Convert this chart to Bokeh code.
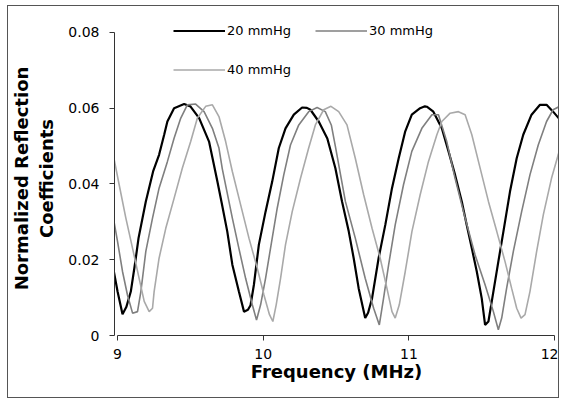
from bokeh.plotting import figure
from bokeh.models import Range1d, FixedTicker, Legend, LegendItem
from bokeh.embed import file_html
from bokeh.resources import INLINE

# ---- data ----
freq_20 = [8.966, 9.0, 9.034, 9.06, 9.091, 9.12, 9.144, 9.194, 9.244, 9.285, 9.32, 9.342, 9.388, 9.457, 9.50,
           9.56, 9.628, 9.651, 9.685, 9.715, 9.753, 9.788, 9.833, 9.868, 9.895, 9.913, 9.936, 9.97, 10.016,
           10.062, 10.107, 10.153, 10.21, 10.267, 10.30, 10.324, 10.381, 10.44, 10.495, 10.541, 10.587, 10.621,
           10.655, 10.70, 10.72, 10.747, 10.792, 10.838, 10.884, 10.93, 10.975, 11.02, 11.077, 11.11, 11.123,
           11.168, 11.226, 11.272, 11.317, 11.363, 11.397, 11.432, 11.466, 11.50, 11.523, 11.546, 11.58, 11.614,
           11.649, 11.694, 11.74, 11.785, 11.842, 11.90, 11.945, 11.99, 12.048]
refl_20 = [0.0187, 0.0116, 0.0056, 0.0075, 0.0116, 0.019, 0.0257, 0.0354, 0.0433, 0.0477, 0.053, 0.0565, 0.060,
           0.0611, 0.0605, 0.0574, 0.0512, 0.047, 0.0407, 0.035, 0.0275, 0.0187, 0.0116, 0.0063, 0.0068, 0.008,
           0.0134, 0.024, 0.0327, 0.0407, 0.0495, 0.0547, 0.0583, 0.0602, 0.0601, 0.0596, 0.0565, 0.052, 0.0442,
           0.0354, 0.0275, 0.0204, 0.0125, 0.0046, 0.006, 0.0098, 0.0204, 0.0292, 0.0389, 0.0468, 0.0539, 0.0583,
           0.060, 0.0605, 0.0604, 0.0591, 0.0547, 0.0486, 0.0424, 0.0354, 0.0292, 0.023, 0.0169, 0.0098, 0.0028,
           0.0037, 0.0116, 0.0195, 0.0275, 0.038, 0.0468, 0.053, 0.0583, 0.0609, 0.0609, 0.0591, 0.0565]

freq_30 = [8.961, 9.0, 9.034, 9.068, 9.103, 9.137, 9.16, 9.194, 9.24, 9.285, 9.342, 9.388, 9.434, 9.479, 9.536,
           9.594, 9.651, 9.696, 9.719, 9.788, 9.833, 9.879, 9.925, 9.954, 9.982, 10.016, 10.05, 10.096, 10.141,
           10.187, 10.244, 10.312, 10.37, 10.426, 10.468, 10.495, 10.564, 10.632, 10.70, 10.758, 10.797, 10.826,
           10.861, 10.906, 10.963, 11.02, 11.089, 11.158, 11.203, 11.26, 11.317, 11.386, 11.454, 11.523, 11.58,
           11.614, 11.637, 11.671, 11.717, 11.774, 11.831, 11.888, 11.945, 11.99, 12.036]
refl_30 = [0.0332, 0.0248, 0.0169, 0.0107, 0.0059, 0.0063, 0.0116, 0.0222, 0.031, 0.0389, 0.0459, 0.0521, 0.0574,
           0.0609, 0.0611, 0.0591, 0.0547, 0.0495, 0.044, 0.031, 0.023, 0.0151, 0.0081, 0.0041, 0.0081, 0.0151,
           0.023, 0.0336, 0.0424, 0.0503, 0.0556, 0.0591, 0.0602, 0.0591, 0.0555, 0.050, 0.0354, 0.0257, 0.0151,
           0.0072, 0.0028, 0.0098, 0.0187, 0.0292, 0.0398, 0.0486, 0.0547, 0.0583, 0.0583, 0.0512, 0.0415, 0.031,
           0.0213, 0.0134, 0.0063, 0.0015, 0.0046, 0.0125, 0.0222, 0.0327, 0.0424, 0.0503, 0.0565, 0.0596, 0.0605]

freq_40 = [8.961, 9.011, 9.057, 9.103, 9.148, 9.183, 9.217, 9.24, 9.251, 9.285, 9.331, 9.388, 9.445, 9.502, 9.548,
           9.605, 9.651, 9.696, 9.742, 9.788, 9.845, 9.902, 9.959, 10.005, 10.043, 10.066, 10.089, 10.119, 10.153,
           10.199, 10.256, 10.312, 10.358, 10.415, 10.465, 10.518, 10.575, 10.632, 10.69, 10.747, 10.803, 10.849,
           10.884, 10.906, 10.934, 10.975, 11.021, 11.077, 11.134, 11.192, 11.226, 11.283, 11.34, 11.386, 11.432,
           11.489, 11.546, 11.603, 11.66, 11.705, 11.74, 11.77, 11.797, 11.831, 11.877, 11.923, 11.979, 12.025,
           12.048]
refl_40 = [0.0495, 0.0398, 0.031, 0.023, 0.0151, 0.009, 0.0063, 0.0072, 0.0116, 0.0204, 0.0283, 0.0362, 0.0442,
           0.0512, 0.0574, 0.0605, 0.0609, 0.0578, 0.0512, 0.0433, 0.0345, 0.0257, 0.0178, 0.0107, 0.0055, 0.0037,
           0.0081, 0.0151, 0.024, 0.0327, 0.0415, 0.0495, 0.0556, 0.0596, 0.0605, 0.0591, 0.0556, 0.0468, 0.0371,
           0.0283, 0.0204, 0.0125, 0.0063, 0.0046, 0.0081, 0.0169, 0.0275, 0.0371, 0.0459, 0.053, 0.0565, 0.0587,
           0.0591, 0.0583, 0.053, 0.0442, 0.0354, 0.0275, 0.0195, 0.0125, 0.0072, 0.0046, 0.0055, 0.0116, 0.0222,
           0.0319, 0.0415, 0.0477, 0.0512]

series_names = ["20 mmHg", "30 mmHg", "40 mmHg"]
x_ticks = [9, 10, 11, 12]
x_tick_labels = ["9", "10", "11", "12"]
y_ticks = [0, 0.02, 0.04, 0.06, 0.08]
y_tick_labels = ["0", "0.02", "0.04", "0.06", "0.08"]

FONT = "DejaVu Sans"

p = figure(width=552, height=393, output_backend="svg", toolbar_location=None,
           x_range=Range1d(8.979, 12.027), y_range=Range1d(0, 0.0829),
           min_border_left=102, min_border_right=2, min_border_top=15, min_border_bottom=64)
p.styles = {"border": "1px solid #555555", "margin-left": "7px", "margin-top": "5px"}
p.outline_line_color = None
p.grid.visible = False
p.background_fill_color = "white"
p.border_fill_color = "white"

r20 = p.line(freq_20, refl_20, line_color="black", line_width=2.2)
r30 = p.line(freq_30, refl_30, line_color="#7f7f7f", line_width=1.6)
r40 = p.line(freq_40, refl_40, line_color="#a9a9a9", line_width=1.6)

# axes
xa = p.xaxis[0]
xa.ticker = FixedTicker(ticks=x_ticks)
xa.major_label_overrides = {t: l for t, l in zip(x_ticks, x_tick_labels)}
xa.bounds = (9, 12)
xa.minor_tick_line_color = None
xa.major_tick_out = 5
xa.major_tick_in = 0
xa.major_label_standoff = 8
xa.major_label_text_font = FONT
xa.major_label_text_font_size = "14px"
xa.major_label_text_color = "black"
xa.axis_line_color = "#333333"
xa.major_tick_line_color = "#333333"
xa.axis_label = "Frequency (MHz)"
xa.axis_label_text_font = FONT
xa.axis_label_text_font_style = "bold"
xa.axis_label_text_font_size = "18px"
xa.axis_label_text_color = "black"
xa.axis_label_standoff = -1

ya = p.yaxis[0]
ya.ticker = FixedTicker(ticks=y_ticks)
ya.major_label_overrides = {t: l for t, l in zip(y_ticks, y_tick_labels)}
ya.bounds = (0, 0.08)
ya.minor_tick_line_color = None
ya.major_tick_out = 5
ya.major_tick_in = 0
ya.major_label_standoff = 10
ya.major_label_text_font = FONT
ya.major_label_text_font_size = "14px"
ya.major_label_text_color = "black"
ya.axis_line_color = "#333333"
ya.major_tick_line_color = "#333333"
ya.axis_label = "Normalized Reflection\nCoefficients"
ya.axis_label_text_font = FONT
ya.axis_label_text_font_style = "bold"
ya.axis_label_text_font_size = "18px"
ya.axis_label_text_color = "black"
ya.axis_label_standoff = 8

legend = Legend(items=[LegendItem(label=series_names[0], renderers=[r20]),
                       LegendItem(label=series_names[1], renderers=[r30]),
                       LegendItem(label=series_names[2], renderers=[r40])],
                orientation="horizontal", ncols=2, location=(59, 258),
                glyph_width=52, glyph_height=13, label_height=13, label_standoff=2,
                spacing=24, padding=0, margin=0,
                label_text_font=FONT, label_text_font_size="13px", label_text_color="black",
                border_line_alpha=0, background_fill_alpha=0)
p.add_layout(legend, "center")

open("out.html", "w").write(file_html(p, INLINE))
